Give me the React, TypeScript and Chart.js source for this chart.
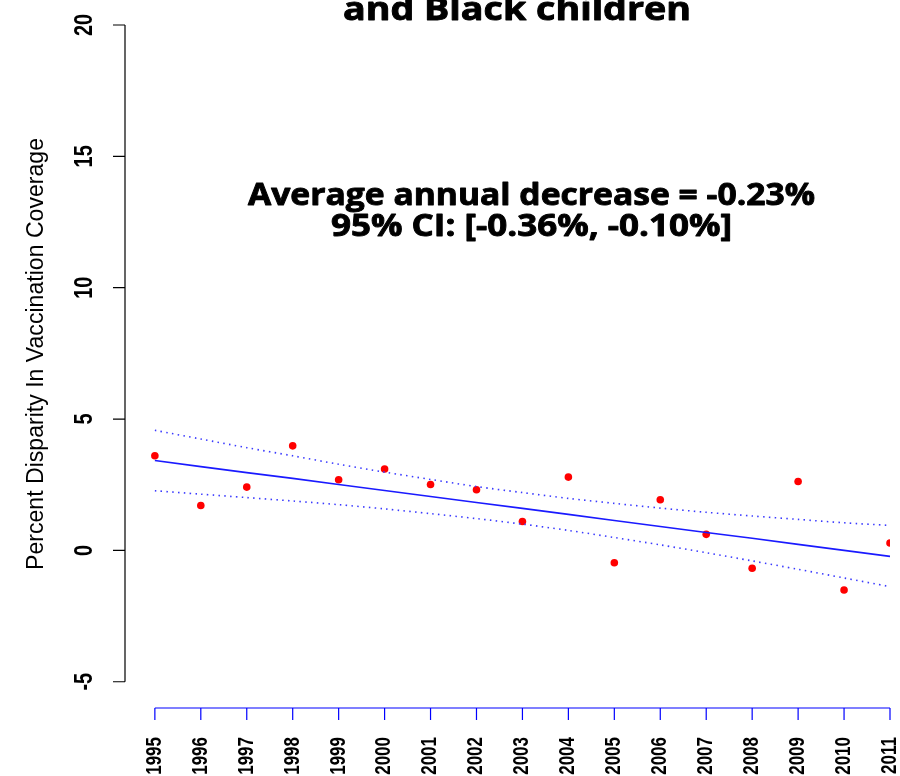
import { useEffect, useRef } from 'react';
import { Chart, registerables } from 'chart.js';

Chart.register(...registerables);

const years = [1995, 1996, 1997, 1998, 1999, 2000, 2001, 2002, 2003, 2004, 2005, 2006, 2007, 2008, 2009, 2010, 2011];
const disparity = [3.6, 1.71, 2.41, 3.98, 2.69, 3.1, 2.51, 2.31, 1.1, 2.79, -0.47, 1.93, 0.61, -0.68, 2.62, -1.51, 0.28];
const fitted = [3.42, 3.19, 2.96, 2.74, 2.51, 2.28, 2.05, 1.82, 1.6, 1.37, 1.14, 0.91, 0.68, 0.46, 0.23, 0.0, -0.23];
const upperCI = [4.57, 4.24, 3.91, 3.6, 3.28, 2.98, 2.7, 2.43, 2.2, 1.98, 1.79, 1.61, 1.45, 1.31, 1.18, 1.05, 0.95];
const lowerCI = [2.27, 2.14, 2.01, 1.88, 1.74, 1.58, 1.4, 1.21, 1.0, 0.76, 0.49, 0.21, -0.09, -0.4, -0.72, -1.05, -1.38];
const yTicks = [-5, 0, 5, 10, 15, 20];
const xTicks = years;
const titleText = 'and Black children';
const annotationLines = ['Average annual decrease = -0.23%', '95% CI: [-0.36%, -0.10%]'];
const yAxisTitle = 'Percent Disparity In Vaccination Coverage';

const fitText = (ctx: CanvasRenderingContext2D, text: string, cx: number, baseline: number, font: string, targetW: number) => {
  ctx.save();
  ctx.font = font;
  const w = ctx.measureText(text).width;
  ctx.translate(cx, baseline);
  ctx.scale(targetW / w, 1);
  ctx.textAlign = 'center';
  ctx.textBaseline = 'alphabetic';
  ctx.fillStyle = '#000';
  ctx.strokeStyle = '#000';
  ctx.lineWidth = 0.9;
  ctx.lineJoin = 'round';
  ctx.fillText(text, 0, 0);
  ctx.strokeText(text, 0, 0);
  ctx.restore();
};

const vText = (
  ctx: CanvasRenderingContext2D,
  text: string,
  x: number,
  y: number,
  font: string,
  align: CanvasTextAlign,
  stretch: number,
  targetLen?: number
) => {
  ctx.save();
  ctx.font = font;
  const w = ctx.measureText(text).width;
  ctx.translate(x, y);
  ctx.rotate(-Math.PI / 2);
  ctx.scale(targetLen ? targetLen / w : 1, stretch);
  ctx.textAlign = align;
  ctx.textBaseline = 'middle';
  ctx.fillStyle = '#000';
  ctx.fillText(text, 0, 0);
  ctx.restore();
};

const axesPlugin = {
  id: 'rAxes',
  afterDraw(chart: any) {
    const ctx: CanvasRenderingContext2D = chart.ctx;
    const xs = chart.scales.x;
    const ys = chart.scales.y;
    const left = chart.chartArea.left;
    const bottom = chart.chartArea.bottom;

    ctx.save();
    ctx.strokeStyle = '#000';
    ctx.lineWidth = 1.2;
    ctx.beginPath();
    ctx.moveTo(left, ys.getPixelForValue(yTicks[0]));
    ctx.lineTo(left, ys.getPixelForValue(yTicks[yTicks.length - 1]));
    yTicks.forEach((v) => {
      const py = ys.getPixelForValue(v);
      ctx.moveTo(left - 12, py);
      ctx.lineTo(left, py);
    });
    ctx.stroke();
    ctx.restore();
    yTicks.forEach((v) => {
      vText(ctx, String(v), left - 40, ys.getPixelForValue(v), 'bold 20px "Liberation Sans", Arial, sans-serif', 'center', 1.3);
    });

    ctx.save();
    ctx.strokeStyle = '#0000ff';
    ctx.lineWidth = 1.2;
    ctx.beginPath();
    ctx.moveTo(xs.getPixelForValue(xTicks[0]), bottom);
    ctx.lineTo(xs.getPixelForValue(xTicks[xTicks.length - 1]), bottom);
    xTicks.forEach((v) => {
      const px = xs.getPixelForValue(v);
      ctx.moveTo(px, bottom);
      ctx.lineTo(px, bottom + 12);
    });
    ctx.stroke();
    ctx.restore();
    xTicks.forEach((v) => {
      vText(ctx, String(v), xs.getPixelForValue(v), bottom + 29, 'bold 17px "Liberation Sans", Arial, sans-serif', 'right', 1.25);
    });

    vText(ctx, yAxisTitle, 37, 354, '23px "Liberation Sans", Arial, sans-serif', 'center', 1.0, 432);

    fitText(ctx, titleText, 517, 20, 'bold 32px "Open Sans", sans-serif', 348);
    fitText(ctx, annotationLines[0], 531.5, 205, 'bold 31px "Open Sans", sans-serif', 567);
    fitText(ctx, annotationLines[1], 531.5, 236, 'bold 31px "Open Sans", sans-serif', 401);
  },
};

export default function App() {
  const ref = useRef<HTMLCanvasElement | null>(null);
  useEffect(() => {
    if (!ref.current) return;
    const toXY = (arr: number[]) => years.map((y, i) => ({ x: y, y: arr[i] }));
    const chart = new Chart(ref.current, {
      type: 'scatter',
      data: {
        datasets: [
          {
            type: 'line',
            data: toXY(fitted),
            borderColor: '#1a1aff',
            borderWidth: 1.6,
            pointRadius: 0,
            fill: false,
            order: 1,
          },
          {
            type: 'line',
            data: toXY(upperCI),
            borderColor: '#3a3aff',
            borderWidth: 1.6,
            borderDash: [1.5, 4.3],
            pointRadius: 0,
            fill: false,
            tension: 0.3,
            order: 1,
          },
          {
            type: 'line',
            data: toXY(lowerCI),
            borderColor: '#3a3aff',
            borderWidth: 1.6,
            borderDash: [1.5, 4.3],
            pointRadius: 0,
            fill: false,
            tension: 0.3,
            order: 1,
          },
          {
            type: 'scatter',
            data: toXY(disparity),
            backgroundColor: '#ff0000',
            borderWidth: 0,
            pointRadius: 3.8,
            order: 3,
          },
        ],
      },
      options: {
        responsive: false,
        animation: false,
        layout: { padding: { left: 125, right: 10, top: 25, bottom: 68 } },
        plugins: { legend: { display: false }, tooltip: { enabled: false }, title: { display: false } },
        scales: {
          x: { type: 'linear', display: false, min: 1994.35, max: 2011 },
          y: { type: 'linear', display: false, min: -6, max: 20 },
        },
      },
      plugins: [axesPlugin],
    });
    return () => chart.destroy();
  }, []);
  return (
    <div style={{ position: 'fixed', left: 0, top: 0, width: 900, height: 776, background: '#fff' }}>
      <canvas ref={ref} width={900} height={776} style={{ display: 'block' }} />
    </div>
  );
}
